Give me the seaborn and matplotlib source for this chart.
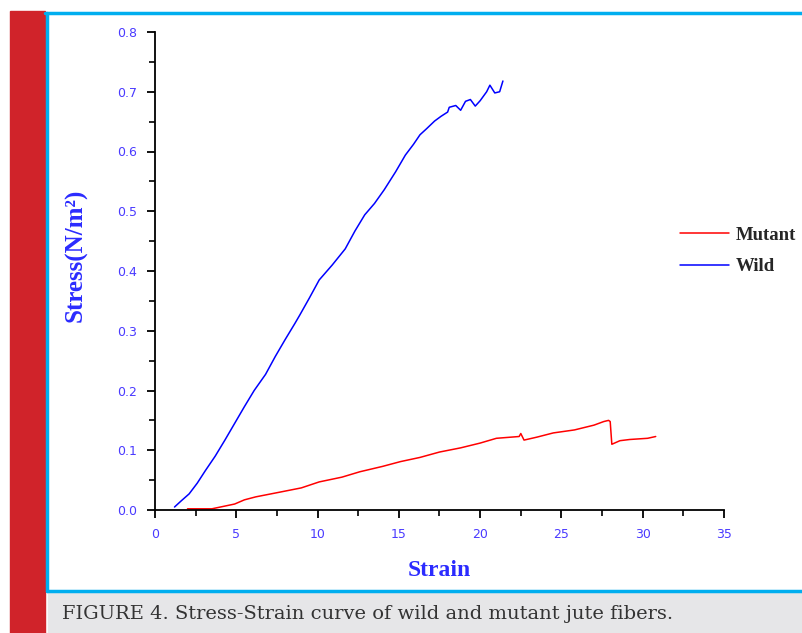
import numpy as np
import pandas as pd
import matplotlib
matplotlib.use("Agg")
import matplotlib.pyplot as plt
from matplotlib.patches import Rectangle
from matplotlib.lines import Line2D
from matplotlib.ticker import MultipleLocator
import seaborn as sns

# ---- data ----
wild_strain = [1.2, 1.6, 2.1, 2.6, 3.1, 3.7, 4.3, 4.9, 5.5, 6.1, 6.8, 7.4, 8.0, 8.6, 8.9, 9.5,
               10.1, 10.9, 11.7, 12.3, 12.9, 13.5, 14.1, 14.8, 15.4, 15.9, 16.3, 16.7, 17.2,
               17.6, 18.0, 18.1, 18.5, 18.8, 19.1, 19.4, 19.7, 20.0, 20.4, 20.6, 20.9, 21.2, 21.4]
wild_stress = [0.005, 0.015, 0.027, 0.045, 0.066, 0.090, 0.117, 0.145, 0.173, 0.200, 0.227, 0.257,
               0.285, 0.312, 0.326, 0.355, 0.385, 0.410, 0.437, 0.467, 0.494, 0.513, 0.536, 0.566,
               0.594, 0.612, 0.628, 0.638, 0.651, 0.659, 0.666, 0.674, 0.677, 0.669, 0.684, 0.687,
               0.676, 0.685, 0.700, 0.711, 0.698, 0.700, 0.718]

mutant_strain = [2.0, 3.5, 4.9, 5.5, 6.2, 7.7, 9.0, 10.1, 11.5, 12.6, 14.0, 15.1, 16.3, 17.5,
                 18.8, 20.0, 21.0, 22.4, 22.5, 22.7, 23.5, 24.5, 25.8, 27.0, 27.6, 27.9, 28.0,
                 28.1, 28.6, 29.2, 30.3, 30.8]
mutant_stress = [0.002, 0.002, 0.010, 0.017, 0.022, 0.030, 0.037, 0.047, 0.055, 0.064, 0.073,
                 0.081, 0.088, 0.097, 0.104, 0.112, 0.120, 0.123, 0.128, 0.117, 0.122, 0.129,
                 0.134, 0.142, 0.148, 0.150, 0.148, 0.110, 0.116, 0.118, 0.120, 0.123]

series_names = ["Mutant", "Wild"]
x_ticks = [0, 5, 10, 15, 20, 25, 30, 35]
y_ticks = [0.0, 0.1, 0.2, 0.3, 0.4, 0.5, 0.6, 0.7, 0.8]
caption = "FIGURE 4. Stress-Strain curve of wild and mutant jute fibers."

sns.set_style("ticks")
W, H = 803, 633
fig = plt.figure(figsize=(W / 100, H / 100), dpi=100)
fig.patch.set_facecolor("white")

# page decorations
fig.patches.append(Rectangle((10 / W, 0), 35 / W, 1 - 11 / H, transform=fig.transFigure,
                             color="#d0232a", zorder=0))
fig.patches.append(Rectangle((48 / W, 0), 1, (633 - 592) / H, transform=fig.transFigure,
                             color="#e6e6e8", zorder=0))
cyan = "#00aeef"
fig.add_artist(Line2D([45 / W, 1], [1 - 12.5 / H] * 2, transform=fig.transFigure, color=cyan, lw=2.5))
fig.add_artist(Line2D([47.5 / W] * 2, [1 - 12.5 / H, 1 - 590.5 / H], transform=fig.transFigure,
                      color=cyan, lw=2.5))
fig.add_artist(Line2D([47.5 / W, 1], [1 - 590.5 / H] * 2, transform=fig.transFigure, color=cyan, lw=2.5))
fig.text(62 / W, 1 - 614 / H, caption, fontsize=14, family="DejaVu Serif", color="#333333",
         va="center", ha="left")

ax = fig.add_axes([155 / W, 1 - 510 / H, (724 - 155) / W, (510 - 32) / H])
sns.lineplot(x=mutant_strain, y=mutant_stress, color="#ff0000", lw=1.1, sort=False, ax=ax,
             label=series_names[0])
sns.lineplot(x=wild_strain, y=wild_stress, color="#0000ff", lw=1.1, sort=False, ax=ax,
             label=series_names[1])

ax.set_xlim(0, 35)
ax.set_ylim(0, 0.8)
ax.set_xticks(x_ticks)
ax.set_yticks(y_ticks)
ax.set_xticklabels([str(t) for t in x_ticks])
ax.set_yticklabels([f"{t:.1f}" for t in y_ticks])
ax.xaxis.set_minor_locator(MultipleLocator(2.5))
ax.yaxis.set_minor_locator(MultipleLocator(0.05))
sns.despine(ax=ax)
for s in ["left", "bottom"]:
    ax.spines[s].set_linewidth(1.3)
    ax.spines[s].set_color("black")
tick_color = "#4a3aff"
ax.tick_params(which="major", direction="out", length=6, width=1.3, color="black",
               labelsize=9, labelcolor=tick_color, pad=7)
ax.tick_params(which="minor", direction="out", length=4, width=1.2, color="black")
ax.set_facecolor("white")

lab_color = "#2b2bff"
ax.set_xlabel("Strain", fontsize=17, fontweight="bold", family="Liberation Serif",
              color=lab_color)
ax.xaxis.set_label_coords(0.5, -(570 - 510) / 478, transform=ax.transAxes)
ax.set_ylabel("Stress(N/m²)", fontsize=18, fontweight="bold", family="Liberation Serif",
              color=lab_color)
ax.yaxis.set_label_coords(-(155 - 76) / 569, (510 - 255) / 478, transform=ax.transAxes)
ax.xaxis.label.set_va("center")
ax.yaxis.label.set_va("center")

leg = ax.legend(loc="center left", bbox_to_anchor=(665 / W, 1 - 251 / H),
                bbox_transform=fig.transFigure, frameon=False, handlelength=2.6,
                handletextpad=0.35, labelspacing=0.75, borderpad=0.3,
                prop={"family": "Liberation Serif", "weight": "bold", "size": 13.5})

fig.savefig("out.png", dpi=100, facecolor="white")
